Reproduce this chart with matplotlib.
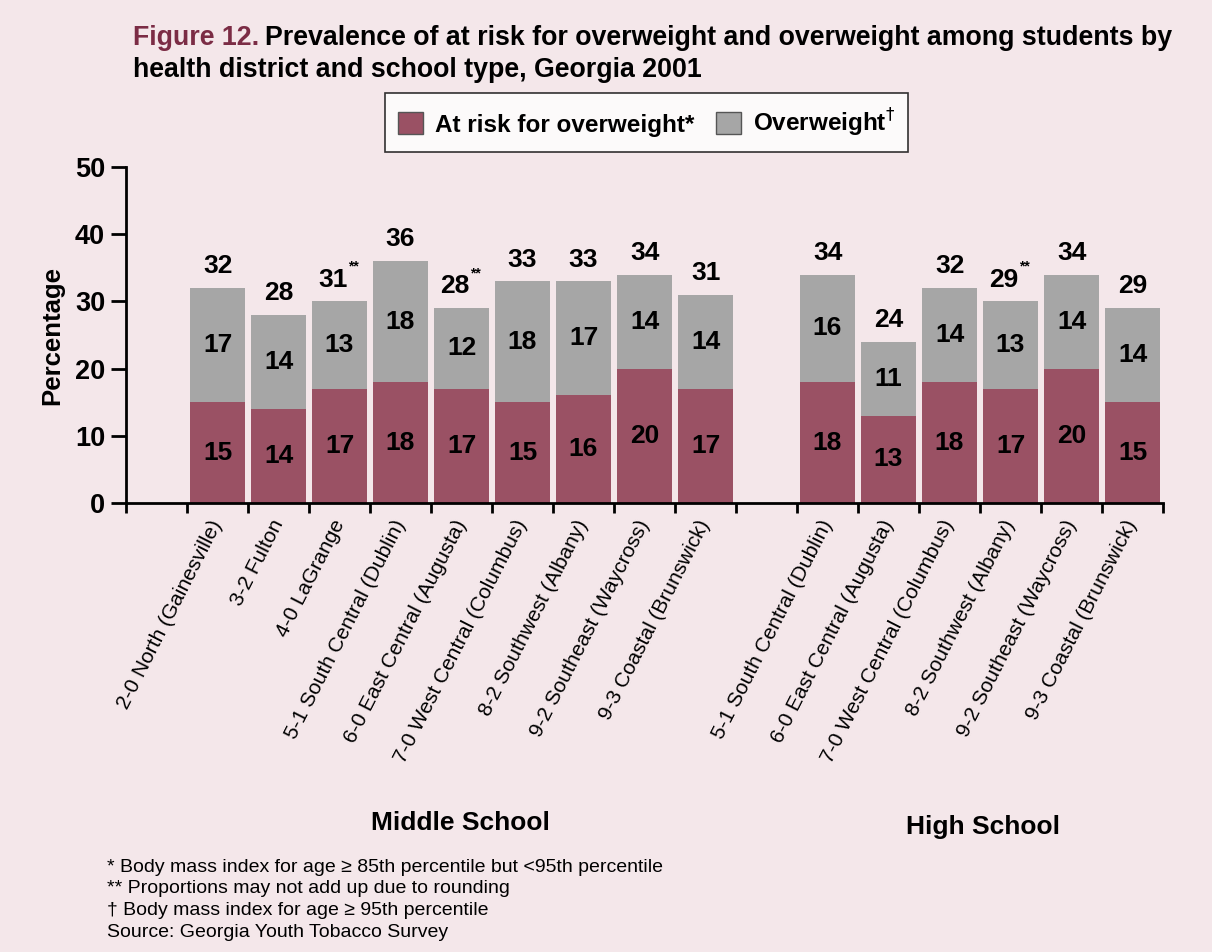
import numpy as np
import matplotlib
matplotlib.use("Agg")
import matplotlib.pyplot as plt
from matplotlib.patches import Patch

plt.rcParams['font.family'] = ['Liberation Sans', 'DejaVu Sans']

# Middle school districts
ms_names = ["2-0 North (Gainesville)", "3-2 Fulton", "4-0 LaGrange",
            "5-1 South Central (Dublin)", "6-0 East Central (Augusta)",
            "7-0 West Central (Columbus)", "8-2 Southwest (Albany)",
            "9-2 Southeast (Waycross)", "9-3 Coastal (Brunswick)"]
ms_at_risk = [15, 14, 17, 18, 17, 15, 16, 20, 17]
ms_overweight = [17, 14, 13, 18, 12, 18, 17, 14, 14]
ms_total = [32, 28, 31, 36, 28, 33, 33, 34, 31]
ms_rounded = [False, False, True, False, True, False, False, False, False]

# High school districts
hs_names = ["5-1 South Central (Dublin)", "6-0 East Central (Augusta)",
            "7-0 West Central (Columbus)", "8-2 Southwest (Albany)",
            "9-2 Southeast (Waycross)", "9-3 Coastal (Brunswick)"]
hs_at_risk = [18, 13, 18, 17, 20, 15]
hs_overweight = [16, 11, 14, 13, 14, 14]
hs_total = [34, 24, 32, 29, 34, 29]
hs_rounded = [False, False, False, True, False, False]

BG = '#f4e7ea'
MAROON = '#9a5164'
GRAY = '#a6a6a6'

names = ms_names + hs_names
at_risk = np.array(ms_at_risk + hs_at_risk)
overweight = np.array(ms_overweight + hs_overweight)
totals = ms_total + hs_total
rounded = ms_rounded + hs_rounded

# one empty slot before the first bar and one between the two groups
slots = list(range(1, 1 + len(ms_names))) + \
    list(range(2 + len(ms_names), 2 + len(ms_names) + len(hs_names)))
x = np.array(slots) + 0.5
n_slots = slots[-1] + 1

fig = plt.figure(figsize=(12.12, 9.52), dpi=100, facecolor=BG)
ax = fig.add_axes([0.104, 0.4716, 0.8556, 0.353])
ax.set_facecolor(BG)

ax.bar(x, at_risk, width=0.9, color=MAROON)
ax.bar(x, overweight, width=0.9, bottom=at_risk, color=GRAY)

LBL = 19
for xi, a, o, t, r in zip(x, at_risk, overweight, totals, rounded):
    ax.text(xi, a / 2, f"{a}", ha='center', va='center',
            fontsize=LBL, fontweight='bold')
    ax.text(xi, a + o / 2, f"{o}", ha='center', va='center',
            fontsize=LBL, fontweight='bold')
    if r:
        ax.annotate(f"{t}", (xi, a + o), xytext=(-5, 7),
                    textcoords='offset points', ha='center', va='bottom',
                    fontsize=LBL, fontweight='bold')
        ax.annotate("**", (xi, a + o), xytext=(6, 20),
                    textcoords='offset points', ha='left', va='bottom',
                    fontsize=10, fontweight='bold')
    else:
        ax.annotate(f"{t}", (xi, a + o), xytext=(0, 7),
                    textcoords='offset points', ha='center', va='bottom',
                    fontsize=LBL, fontweight='bold')

ax.set_xlim(0, n_slots)
ax.set_ylim(0, 50)
ax.set_yticks(range(0, 51, 10))
ax.tick_params(axis='y', labelsize=19.5, width=2, length=11, pad=4)
for lbl in ax.get_yticklabels():
    lbl.set_fontweight('bold')

ax.set_xticks(range(0, n_slots + 1))
ax.set_xticklabels([])
ax.tick_params(axis='x', which='major', width=2, length=7, direction='out')
ax.set_xticks(x, minor=True)
ax.set_xticklabels(names, minor=True, rotation=63, ha='right',
                   va='center', rotation_mode='anchor', fontsize=15)
ax.tick_params(axis='x', which='minor', length=0, pad=13)

for side in ('top', 'right'):
    ax.spines[side].set_visible(False)
for side in ('left', 'bottom'):
    ax.spines[side].set_linewidth(2)

ax.set_ylabel("Percentage", fontsize=18.5, fontweight='bold', labelpad=8)

# title, with the figure number in maroon
TS = 19.3
fig_num = fig.text(0.1097, 0.960, "Figure 12.", color='#7b2c45', fontsize=TS,
                   fontweight='bold', va='center')
fig.canvas.draw()
bb = fig_num.get_window_extent()
fig.text((bb.x1 + 6) / fig.bbox.width, 0.960,
         "Prevalence of at risk for overweight and overweight among students by",
         fontsize=TS, fontweight='bold', va='center')
fig.text(0.1097, 0.926, "health district and school type, Georgia 2001",
         fontsize=TS, fontweight='bold', va='center')

# legend
handles = [Patch(facecolor=MAROON, edgecolor='#555555', label="At risk for overweight*"),
           Patch(facecolor=GRAY, edgecolor='#555555', label="Overweight$^{\u2020}$")]
leg = fig.legend(handles=handles, loc='center', bbox_to_anchor=(0.5336, 0.871),
                 ncol=2, frameon=True, fancybox=False, edgecolor='black',
                 prop={'size': 17.5, 'weight': 'bold'}, handlelength=1.0,
                 handleheight=1.0, handletextpad=0.5, columnspacing=0.9,
                 borderpad=0.55, borderaxespad=0)
leg.get_frame().set_linewidth(1.2)
leg.get_frame().set_facecolor('white')

# group labels
fig.text(0.3795, 0.135, "Middle School", fontsize=19, fontweight='bold',
         ha='center', va='center')
fig.text(0.811, 0.131, "High School", fontsize=19, fontweight='bold',
         ha='center', va='center')

notes = ["* Body mass index for age \u2265 85th percentile but <95th percentile",
         "** Proportions may not add up due to rounding",
         "\u2020 Body mass index for age \u2265 95th percentile",
         "Source: Georgia Youth Tobacco Survey"]
for i, line in enumerate(notes):
    fig.text(0.088, 0.089 - i * 0.0228, line, fontsize=14, va='center')

fig.savefig("out.png", dpi=100, facecolor=BG)
